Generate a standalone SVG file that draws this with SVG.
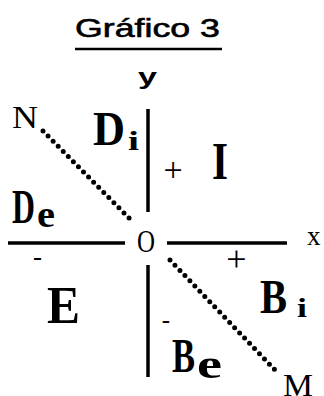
<svg xmlns="http://www.w3.org/2000/svg" width="324" height="396" viewBox="0 0 324 396">
<style>
.sans{font-family:'Liberation Sans',Arial,sans-serif;fill:#000}
.serif{font-family:'Liberation Serif','DejaVu Serif','Noto Serif',serif;fill:#000}
.big{font-weight:bold}
.axis{stroke:#000;stroke-width:3.5;fill:none}
.dot{stroke:#000;stroke-width:5;stroke-linecap:round;stroke-dasharray:0 7.2;fill:none}
</style>
<rect width="324" height="396" fill="#fff"/>
<g id="title">
<text class="sans" x="75" y="37" font-size="26" stroke="#000" stroke-width="0.6" textLength="145" lengthAdjust="spacingAndGlyphs">Gráfico 3</text>
<line x1="75" y1="49" x2="222" y2="49" stroke="#000" stroke-width="2.5"/>
</g>
<g id="connectors">
<line class="axis" x1="148" y1="109" x2="148" y2="212"/>
<line class="axis" x1="148" y1="265" x2="148" y2="377"/>
<line class="axis" x1="8" y1="243" x2="125" y2="243"/>
<line class="axis" x1="167" y1="243" x2="287" y2="243"/>
<line class="dot" x1="43" y1="131" x2="132" y2="221"/>
<line class="dot" x1="170" y1="260" x2="275" y2="370"/>
</g>
<g id="label-y"><text class="sans big" x="138" y="84" font-size="22" textLength="19" lengthAdjust="spacingAndGlyphs">y</text></g>
<g id="label-x"><text class="serif" x="307" y="245" font-size="27">x</text></g>
<g id="label-O"><text class="serif" x="137" y="252" font-size="31" textLength="18" lengthAdjust="spacingAndGlyphs">O</text></g>
<g id="label-N"><text class="serif" x="12" y="128" font-size="32" textLength="26" lengthAdjust="spacingAndGlyphs">N</text></g>
<g id="label-M"><text class="serif" x="283" y="396" font-size="31" textLength="30" lengthAdjust="spacingAndGlyphs">M</text></g>
<g id="quad-Di">
<text class="serif big" x="93" y="145" font-size="48" textLength="32" lengthAdjust="spacingAndGlyphs">D</text>
<text class="serif big" x="128" y="150" font-size="27" textLength="11" lengthAdjust="spacingAndGlyphs">i</text>
</g>
<g id="quad-I"><text class="serif big" x="212" y="179" font-size="52" textLength="16" lengthAdjust="spacingAndGlyphs">I</text></g>
<g id="quad-De">
<text class="serif big" x="12" y="223" font-size="48" textLength="23" lengthAdjust="spacingAndGlyphs">D</text>
<text class="serif big" x="37" y="227" font-size="38" textLength="18" lengthAdjust="spacingAndGlyphs">e</text>
</g>
<g id="quad-E"><text class="serif big" x="47" y="323" font-size="52" textLength="33" lengthAdjust="spacingAndGlyphs">E</text></g>
<g id="quad-Bi">
<text class="serif big" x="260" y="313" font-size="48" textLength="27" lengthAdjust="spacingAndGlyphs">B</text>
<text class="serif big" x="297" y="317" font-size="27" textLength="10" lengthAdjust="spacingAndGlyphs">i</text>
</g>
<g id="quad-Be">
<text class="serif big" x="172" y="372" font-size="49" textLength="23" lengthAdjust="spacingAndGlyphs">B</text>
<text class="serif big" x="197" y="378" font-size="41" textLength="25" lengthAdjust="spacingAndGlyphs">e</text>
</g>
<g id="signs">
<text class="serif" x="173" y="181" font-size="34" text-anchor="middle">+</text>
<text class="serif" x="236.5" y="271" font-size="36" text-anchor="middle">+</text>
<text class="serif" x="37.5" y="265" font-size="27" text-anchor="middle">-</text>
<text class="serif" x="166" y="328" font-size="25" text-anchor="middle">-</text>
</g>
</svg>
